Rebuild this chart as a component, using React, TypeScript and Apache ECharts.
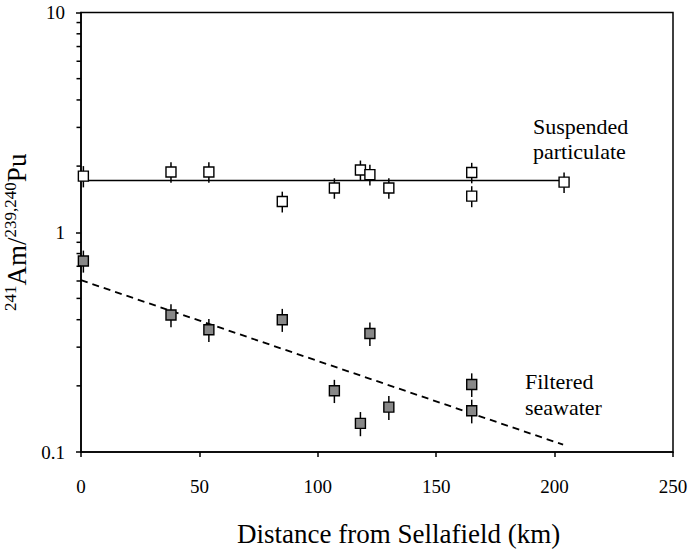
import React, { useEffect, useRef } from "react";
import * as echarts from "echarts";

// Suspended particulate (open squares)
const distParticulate = [1, 38, 54, 85, 107, 118, 122, 130, 165, 165, 204];
const ratioParticulate = [1.8, 1.88, 1.88, 1.38, 1.59, 1.92, 1.83, 1.59, 1.87, 1.46, 1.69];
const errParticulate = [0.2, 0.2, 0.2, 0.15, 0.17, 0.2, 0.2, 0.17, 0.2, 0.16, 0.18];

// Filtered seawater (grey squares)
const distSeawater = [1, 38, 54, 85, 107, 118, 122, 130, 165, 165];
const ratioSeawater = [0.74, 0.42, 0.36, 0.4, 0.19, 0.135, 0.346, 0.16, 0.203, 0.154];
const errSeawater = [0.085, 0.05, 0.043, 0.048, 0.023, 0.017, 0.042, 0.02, 0.025, 0.019];

// Fitted lines
const fitParticulate = [
  [0, 1.72],
  [203, 1.72],
];
const fitSeawater = [
  [0, 0.605],
  [203.6, 0.108],
];

// Axis ticks
const xTickValues = [0, 50, 100, 150, 200, 250];
const yTickLabels = ["0.1", "1", "10"];
const yMinorTicks = [0.2, 0.3, 0.4, 0.5, 0.6, 0.7, 0.8, 0.9, 2, 3, 4, 5, 6, 7, 8, 9];

const FONT = "Liberation Serif";

export default function App() {
  const ref = useRef<HTMLDivElement>(null);

  useEffect(() => {
    const chart = echarts.init(ref.current!, null, { renderer: "svg" });

    const errBar = (params: any, api: any) => {
      const x = api.value(0);
      const y = api.value(1);
      const e = api.value(2);
      const p1 = api.coord([x, y + e]);
      const p2 = api.coord([x, y - e]);
      return {
        type: "line",
        shape: { x1: p1[0], y1: p1[1], x2: p2[0], y2: p2[1] },
        style: { stroke: "#000", lineWidth: 1.5 },
      };
    };

    const textTitle = (text: string, left: number, top: number, size: number, lh: number) => ({
      text,
      left,
      top,
      padding: 0,
      itemGap: 0,
      textStyle: {
        fontFamily: FONT,
        fontSize: size,
        fontWeight: "normal",
        color: "#000",
        lineHeight: lh,
      },
    });

    const option: any = {
      animation: false,
      textStyle: { fontFamily: FONT },
      title: [
        textTitle("Suspended\nparticulate", 533, 114, 22, 25),
        textTitle("Filtered\nseawater", 525, 368, 22, 26),
        textTitle("Distance from Sellafield (km)", 237, 517, 27, 34),
      ],
      grid: {
        left: 81,
        right: 19,
        top: 12.5,
        bottom: 100,
        show: true,
        borderColor: "#000",
        borderWidth: 1.5,
        backgroundColor: "transparent",
        outerBoundsMode: "none",
        containLabel: false,
      },
      xAxis: {
        type: "value",
        min: xTickValues[0],
        max: xTickValues[xTickValues.length - 1],
        interval: 50,
        axisLine: { show: true, lineStyle: { color: "#000", width: 1.5 } },
        axisTick: { show: true, inside: false, length: 5, lineStyle: { color: "#000", width: 1.5 } },
        splitLine: { show: false },
        axisLabel: { color: "#000", fontFamily: FONT, fontSize: 19, margin: 25 },
      },
      yAxis: {
        type: "log",
        logBase: 10,
        min: 0.1,
        max: 10,
        axisLine: { show: true, lineStyle: { color: "#000", width: 1.5 } },
        axisTick: { show: true, inside: false, length: 5, lineStyle: { color: "#000", width: 1.5 } },
        splitLine: { show: false },
        axisLabel: {
          color: "#000",
          fontFamily: FONT,
          fontSize: 19,
          margin: 16,
          formatter: (v: number) => (v < 0.5 ? yTickLabels[0] : v < 5 ? yTickLabels[1] : yTickLabels[2]),
        },
        name: "{sup|241}{big|Am/}{sup|239,240}{big|Pu}",
        nameLocation: "middle",
        nameRotate: 90,
        nameGap: 48,
        nameTextStyle: {
          color: "#000",
          fontFamily: FONT,
          rich: {
            big: { fontFamily: FONT, fontSize: 27, color: "#000", verticalAlign: "bottom", lineHeight: 28 },
            sup: { fontFamily: FONT, fontSize: 17, color: "#000", verticalAlign: "top", lineHeight: 28 },
          },
        },
      },
      series: [
        {
          type: "custom",
          name: "minorTicks",
          silent: true,
          clip: false,
          data: yMinorTicks.map((v) => [0, v]),
          renderItem: (params: any, api: any) => {
            const p = api.coord([0, api.value(1)]);
            return {
              type: "line",
              shape: { x1: p[0] - 4.5, y1: p[1], x2: p[0], y2: p[1] },
              style: { stroke: "#000", lineWidth: 1.5 },
            };
          },
          z: 5,
        },
        {
          type: "line",
          data: fitParticulate,
          symbol: "none",
          lineStyle: { color: "#000", width: 1.5 },
          z: 2,
        },
        {
          type: "line",
          data: fitSeawater,
          symbol: "none",
          lineStyle: { color: "#000", width: 1.8, type: [7, 5] },
          z: 2,
        },
        {
          type: "custom",
          renderItem: errBar,
          data: distParticulate.map((d, i) => [d, ratioParticulate[i], errParticulate[i]]),
          encode: { x: 0, y: 1 },
          z: 3,
        },
        {
          type: "custom",
          renderItem: errBar,
          data: distSeawater.map((d, i) => [d, ratioSeawater[i], errSeawater[i]]),
          encode: { x: 0, y: 1 },
          z: 3,
        },
        {
          type: "scatter",
          data: distParticulate.map((d, i) => [d, ratioParticulate[i]]),
          symbol: "rect",
          symbolSize: 10,
          itemStyle: { color: "#fff", borderColor: "#000", borderWidth: 1.4, opacity: 1 },
          z: 4,
        },
        {
          type: "scatter",
          data: distSeawater.map((d, i) => [d, ratioSeawater[i]]),
          symbol: "rect",
          symbolSize: 10,
          itemStyle: { color: "#888", borderColor: "#000", borderWidth: 1.4, opacity: 1 },
          z: 4,
        },
      ],
    };

    chart.setOption(option);
    return () => chart.dispose();
  }, []);

  return (
    <div
      ref={ref}
      style={{ position: "fixed", left: 0, top: 0, width: 692, height: 552, background: "#fff" }}
    />
  );
}
